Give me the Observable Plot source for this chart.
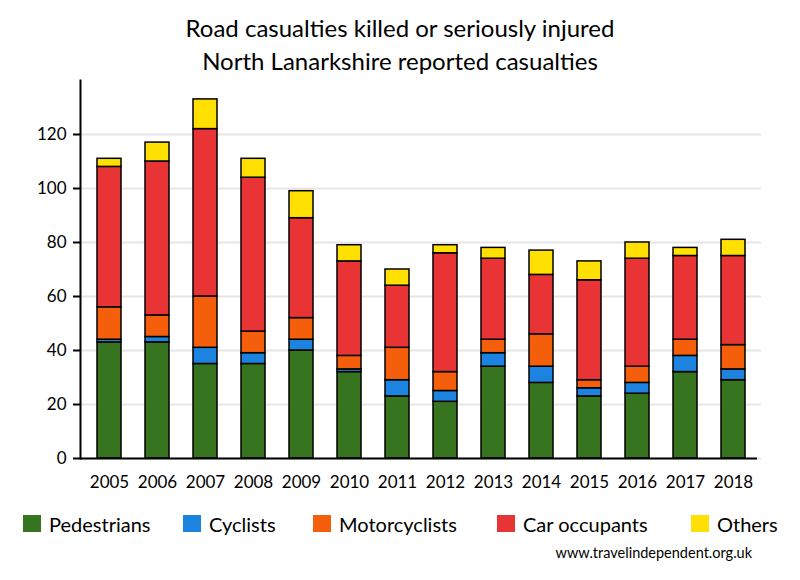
<!DOCTYPE html>
<html>
<head>
<meta charset="utf-8">
<script src="https://cdn.jsdelivr.net/npm/d3@7"></script>
<script src="https://cdn.jsdelivr.net/npm/@observablehq/plot@0.6"></script>
<style>
  body { margin: 0; background: white; }
  #wrap { position: relative; width: 800px; height: 580px; font-family: Lato, "Open Sans", sans-serif; color: black; overflow: hidden; background: white; }
  #title { position: absolute; top: 11px; left: 0; width: 800px; text-align: center; font-size: 24px; line-height: 33px; z-index: 2; }
  #chart { position: absolute; top: 70px; left: 0; z-index: 1; }
  .leg { position: absolute; top: 512px; font-size: 20px; line-height: 24px; white-space: nowrap; }
  .sw { position: absolute; top: 3px; left: 0; width: 18px; height: 17px; }
  .lt { position: absolute; left: 26px; top: 0; }
  #src { position: absolute; top: 544px; right: 48px; font-size: 14.5px; }
</style>
</head>
<body>
<div id="wrap">
  <div id="title">Road casualties killed or seriously injured<br>North Lanarkshire reported casualties</div>
  <div id="chart"></div>
  <div id="legend"></div>
  <div id="src">www.travelindependent.org.uk</div>
</div>
<script>
const years = ["2005","2006","2007","2008","2009","2010","2011","2012","2013","2014","2015","2016","2017","2018"];
const seriesNames = ["Pedestrians","Cyclists","Motorcyclists","Car occupants","Others"];
const seriesColors = ["#36741f","#1c84e0","#f55f0c","#e83434","#ffe000"];
const pedestrians   = [43,43,35,35,40,32,23,21,34,28,23,24,32,29];
const cyclists      = [1, 2, 6, 4, 4, 1, 6, 4, 5, 6, 3, 4, 6, 4];
const motorcyclists = [12,8,19, 8, 8, 5,12, 7, 5,12, 3, 6, 6, 9];
const carOccupants  = [52,57,62,57,37,35,23,44,30,22,37,40,31,33];
const others        = [3, 7,11, 7,10, 6, 6, 3, 4, 9, 7, 6, 3, 6];
const yTicks = [0,20,40,60,80,100,120];

const seriesValues = [pedestrians, cyclists, motorcyclists, carOccupants, others];
const rows = [];
seriesNames.forEach((s, i) => {
  years.forEach((y, j) => rows.push({year: y, series: s, value: seriesValues[i][j]}));
});

const chart = Plot.plot({
  width: 800,
  height: 430,
  marginTop: 10,
  marginBottom: 42,
  marginLeft: 80,
  marginRight: 39,
  style: {fontFamily: "Lato, 'Open Sans', sans-serif", fontSize: "17px", color: "black", background: "transparent"},
  x: {type: "band", domain: years, range: [85, 757], paddingInner: 0.5, paddingOuter: 0.25, label: null},
  y: {domain: [0, 140], label: null},
  color: {domain: seriesNames, range: seriesColors},
  marks: [
    Plot.gridY(yTicks, {stroke: "#e6e6e6", strokeOpacity: 1, strokeWidth: 2}),
    Plot.barY(rows, {x: "year", y: "value", fill: "series", stroke: "black", strokeWidth: 1.5}),
    Plot.axisY(yTicks, {tickSize: 7, tickPadding: 7, strokeWidth: 2, fontSize: 17, label: null}),
    Plot.axisX({tickSize: 0, tickPadding: 17, fontSize: 17, label: null}),
    Plot.frame({anchor: "left", strokeWidth: 2}),
    Plot.ruleY([0], {strokeWidth: 2, insetRight: 4})
  ]
});
document.getElementById("chart").appendChild(chart);

const legX = [23, 183, 313, 497, 691];
const legend = document.getElementById("legend");
seriesNames.forEach((s, i) => {
  const d = document.createElement("div");
  d.className = "leg";
  d.style.left = legX[i] + "px";
  d.innerHTML = `<span class="sw" style="background:${seriesColors[i]}"></span><span class="lt">${s}</span>`;
  legend.appendChild(d);
});
</script>
</body>
</html>
